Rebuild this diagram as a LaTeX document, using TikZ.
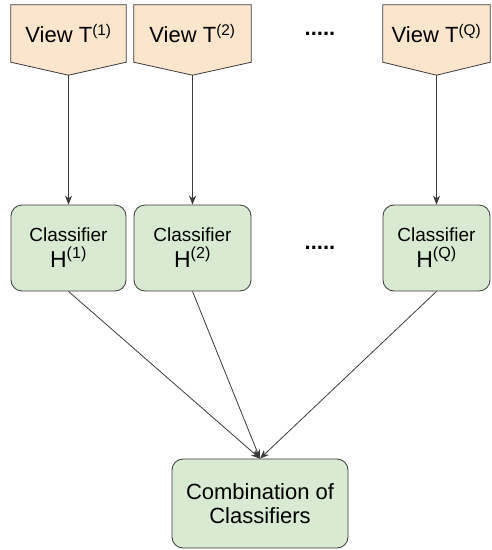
\documentclass[tikz,border=0pt]{standalone}
\usepackage{fontspec}
\setmainfont{Liberation Sans}
\usetikzlibrary{backgrounds}
\usetikzlibrary{arrows.meta}

\definecolor{viewfill}{HTML}{FCE5CD}
\definecolor{clsfill}{HTML}{D9EAD3}
\definecolor{edge}{HTML}{3A3A3A}

\tikzset{
  view/.style={rectangle, minimum width=115pt, minimum height=57pt, inner sep=0pt,
    font=\fontsize{22}{26}\selectfont},
  viewshape/.style={draw=edge, fill=viewfill, line width=0.8pt},
  clsbox/.style={rectangle, rounded corners=11pt, draw=edge, fill=clsfill, line width=0.8pt,
    minimum width=115pt, minimum height=86pt, align=center},
  dots/.style={font=\fontsize{22}{26}\selectfont\bfseries},
  link/.style={edge, line width=0.8pt, -{Stealth[length=9pt, width=7pt]}}
}
\newcommand{\viewtip}[1]{([yshift=-13pt]#1.south)}

\begin{document}
\begin{tikzpicture}[x=1pt, y=-1pt]
    \useasboundingbox (0, 0) rectangle (491, 550);
\node[view] (v1) at (68.5, 33.5) {View T\textsuperscript{(1)}};
\node[view, minimum width=117pt] (v2) at (192.5, 33.5) {View T\textsuperscript{(2)}};
\node[view, minimum width=107pt] (vq) at (436.5, 33.5) {View T\textsuperscript{(Q)}};
\node[dots] (d1) at (320, 34) {.....};
\node[clsbox] (h1) at (68.5, 248) {\fontsize{19}{25}\selectfont Classifier\\[4pt]\fontsize{23}{25}\selectfont H\textsuperscript{(1)}};
\node[clsbox, minimum width=117pt] (h2) at (192.5, 248) {\fontsize{19}{25}\selectfont Classifier\\[4pt]\fontsize{23}{25}\selectfont H\textsuperscript{(2)}};
\node[clsbox, minimum width=107pt] (hq) at (436.5, 248) {\fontsize{19}{25}\selectfont Classifier\\[4pt]\fontsize{23}{25}\selectfont H\textsuperscript{(Q)}};
\node[dots] (d2) at (320, 248) {.....};
\node[clsbox, minimum width=176pt, minimum height=89pt,
      font=\fontsize{22}{24}\selectfont] (comb) at (260, 503.5) {Combination of\\Classifiers};
    % pentagon outlines behind the view labels
    \begin{scope}[on background layer]
    \foreach \v in {v1, v2, vq}
      \filldraw[viewshape] (\v.north west) -- (\v.north east) -- (\v.south east)
        -- \viewtip{\v} -- (\v.south west) -- cycle;
    \end{scope}
    \draw[link] \viewtip{v1} -- (h1.north);
    \draw[link] \viewtip{v2} -- (h2.north);
    \draw[link] \viewtip{vq} -- (hq.north);
    \draw[link] (h1.south) -- (comb.north);
    \draw[link] (h2.south) -- (comb.north);
    \draw[link] (hq.south) -- (comb.north);
    \end{tikzpicture}
\end{document}
